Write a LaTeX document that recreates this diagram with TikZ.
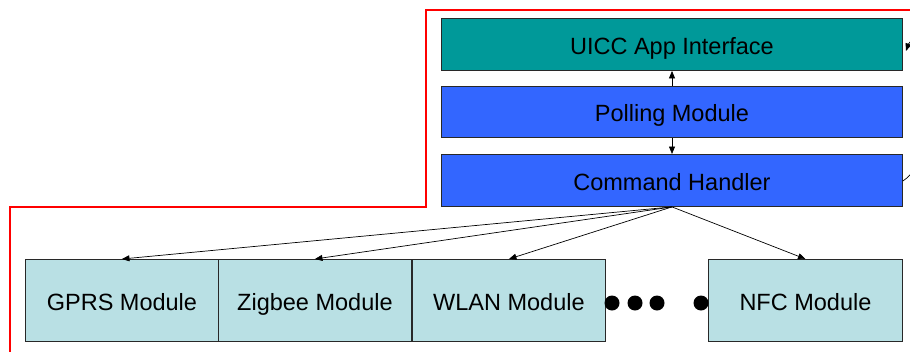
\documentclass[tikz,border=0pt]{standalone}
\usepackage{fontspec}
\setmainfont{Liberation Sans}
\usetikzlibrary{arrows.meta}
\definecolor{uiccteal}{RGB}{0,153,153}
\definecolor{layerblue}{RGB}{51,102,255}
\definecolor{modcyan}{RGB}{185,224,228}
\definecolor{frame}{RGB}{40,40,40}
\begin{document}
\begin{tikzpicture}[x=1pt,y=-1pt,
  box/.style={draw=frame,line width=0.9pt,minimum height=52pt,inner sep=0pt,
    text height=20pt,text depth=0pt,font=\fontsize{23.5}{28}\selectfont},
  layer/.style={box,minimum width=461pt},
  module/.style={box,fill=modcyan,minimum width=193pt,minimum height=82pt},
  link/.style={-{Triangle[length=7.5pt,width=6pt]},line width=0.7pt},
  dot/.style={circle,fill=black,minimum size=15pt,inner sep=0pt}]
\useasboundingbox (0,0) rectangle (910,351);
% red boundary of the secure element
\draw[red,line width=2.2pt] (10,353) -- (10,207) -- (426,207) -- (426,10) -- (912,10);
% host-side layers
\node[layer,fill=uiccteal,anchor=north west] (uicc) at (441,18) {UICC App Interface};
\node[layer,fill=layerblue,anchor=north west,minimum height=51pt] (poll) at (441,86) {Polling Module};
\node[layer,fill=layerblue,anchor=north west] (cmd) at (441,154) {Command Handler};
% radio modules
\node[module,anchor=north west] (gprs) at (25,259) {GPRS Module};
\node[module,anchor=north west] (zig) at (218,259) {Zigbee Module};
\node[module,anchor=north west] (wlan) at (412,259) {WLAN Module};
\node[module,anchor=north west,minimum width=194pt] (nfc) at (708,259) {NFC Module};
\node[dot] (d1) at (612,303) {};
\node[dot] (d2) at (635,303) {};
\node[dot] (d3) at (657,303) {};
\node[dot] (d4) at (701,303) {};
% connections
\draw[link] (poll.north -| 672,0) -- (uicc.south -| 672,0);
\draw[link] (poll.south -| 672,0) -- (cmd.north -| 672,0);
\coordinate (hub) at (cmd.south -| 672,0);
\draw[link] (hub) -- (gprs.north);
\draw[link] (hub) -- (zig.north);
\draw[link] (hub) -- (wlan.north);
\draw[link] (hub) -- (nfc.north);
\coordinate (loopin) at (906,51);
\draw[link] (cmd.east |- 0,181) .. controls (950,150) and (915,25) .. (loopin);
\end{tikzpicture}
\end{document}
